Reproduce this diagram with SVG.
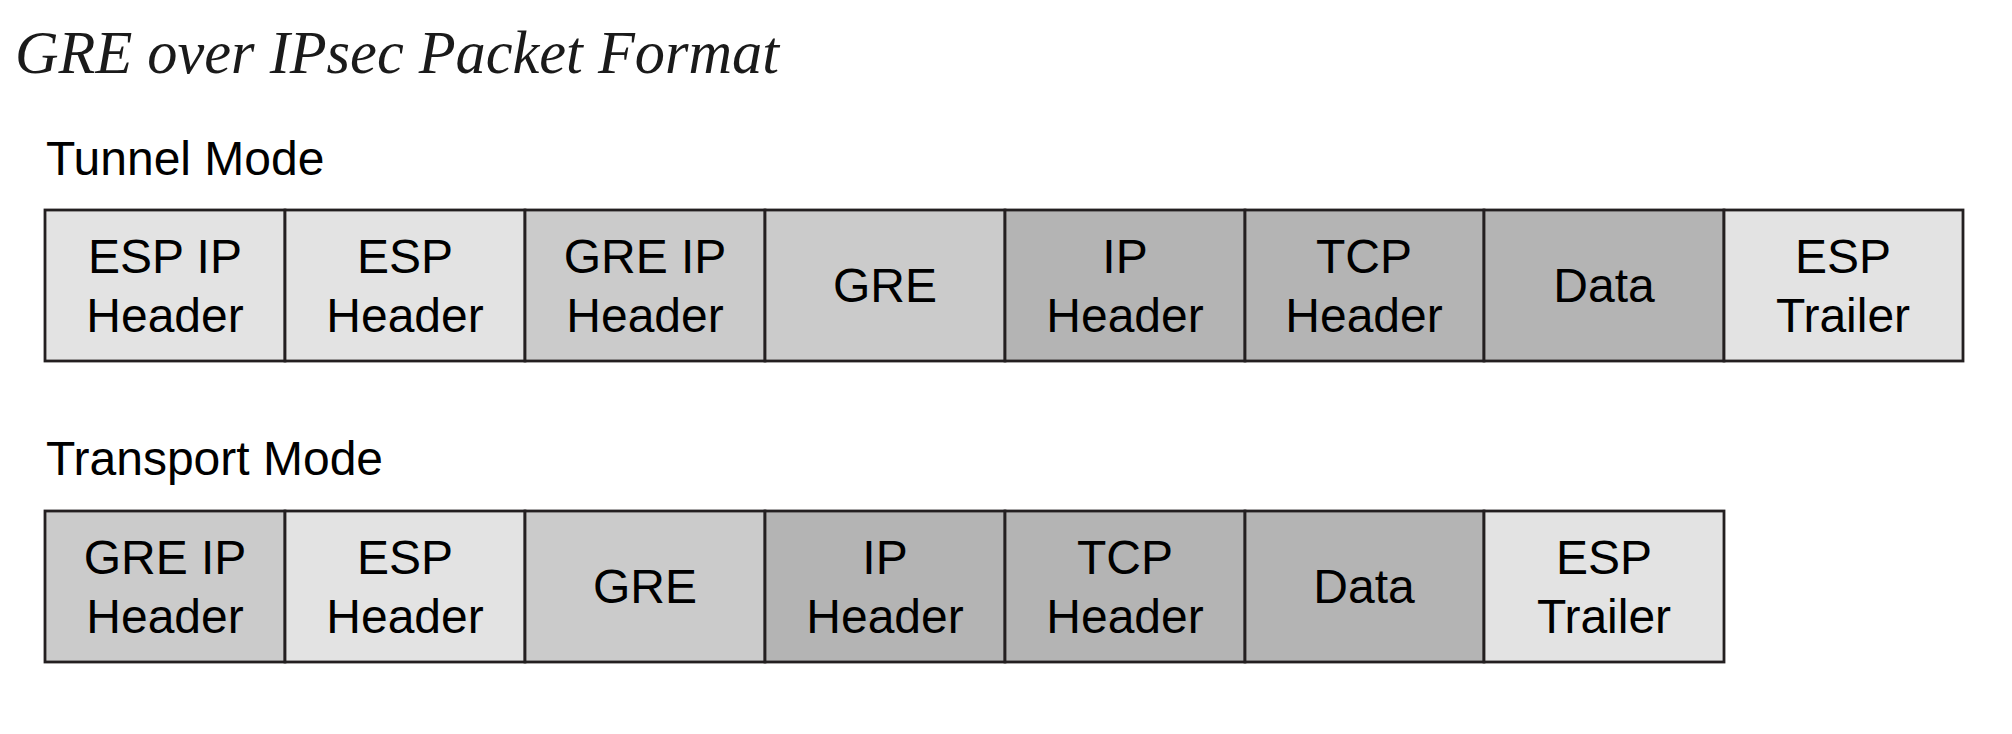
<svg xmlns="http://www.w3.org/2000/svg" width="2012" height="734" viewBox="0 0 2012 734">
  <style>
    .title { font-family: "Liberation Serif", "Times New Roman", serif; font-style: italic; font-size: 62px; fill: #1a1a1a; }
    .mode { font-family: "Liberation Sans", Arial, sans-serif; font-size: 48px; fill: #000; }
    .lbl { font-family: "Liberation Sans", Arial, sans-serif; font-size: 48px; fill: #000; text-anchor: middle; }
    .cell { stroke: #231f20; stroke-width: 2.8; }
    .light { fill: #e3e3e3; }
    .mid { fill: #cbcbcb; }
    .dark { fill: #b4b4b4; }
  </style>
  <rect width="2012" height="734" fill="#ffffff"/>

  <text class="title" x="15" y="73" textLength="764" lengthAdjust="spacingAndGlyphs">GRE over IPsec Packet Format</text>

  <!-- Tunnel mode packet -->
  <text class="mode" x="46" y="175">Tunnel Mode</text>
  <g id="tunnel">
    <g id="t-esp-ip-header">
      <rect class="cell light" x="45" y="210" width="240" height="151"/>
      <text class="lbl" x="165" y="273">ESP IP</text>
      <text class="lbl" x="165" y="332">Header</text>
    </g>
    <g id="t-esp-header">
      <rect class="cell light" x="285" y="210" width="240" height="151"/>
      <text class="lbl" x="405" y="273">ESP</text>
      <text class="lbl" x="405" y="332">Header</text>
    </g>
    <g id="t-gre-ip-header">
      <rect class="cell mid" x="525" y="210" width="240" height="151"/>
      <text class="lbl" x="645" y="273">GRE IP</text>
      <text class="lbl" x="645" y="332">Header</text>
    </g>
    <g id="t-gre">
      <rect class="cell mid" x="765" y="210" width="240" height="151"/>
      <text class="lbl" x="885" y="302">GRE</text>
    </g>
    <g id="t-ip-header">
      <rect class="cell dark" x="1005" y="210" width="240" height="151"/>
      <text class="lbl" x="1125" y="273">IP</text>
      <text class="lbl" x="1125" y="332">Header</text>
    </g>
    <g id="t-tcp-header">
      <rect class="cell dark" x="1245" y="210" width="239" height="151"/>
      <text class="lbl" x="1364" y="273">TCP</text>
      <text class="lbl" x="1364" y="332">Header</text>
    </g>
    <g id="t-data">
      <rect class="cell dark" x="1484" y="210" width="240" height="151"/>
      <text class="lbl" x="1604" y="302">Data</text>
    </g>
    <g id="t-esp-trailer">
      <rect class="cell light" x="1724" y="210" width="239" height="151"/>
      <text class="lbl" x="1843" y="273">ESP</text>
      <text class="lbl" x="1843" y="332">Trailer</text>
    </g>
  </g>

  <!-- Transport mode packet -->
  <text class="mode" x="46" y="475">Transport Mode</text>
  <g id="transport">
    <g id="p-gre-ip-header">
      <rect class="cell mid" x="45" y="511" width="240" height="151"/>
      <text class="lbl" x="165" y="574">GRE IP</text>
      <text class="lbl" x="165" y="633">Header</text>
    </g>
    <g id="p-esp-header">
      <rect class="cell light" x="285" y="511" width="240" height="151"/>
      <text class="lbl" x="405" y="574">ESP</text>
      <text class="lbl" x="405" y="633">Header</text>
    </g>
    <g id="p-gre">
      <rect class="cell mid" x="525" y="511" width="240" height="151"/>
      <text class="lbl" x="645" y="603">GRE</text>
    </g>
    <g id="p-ip-header">
      <rect class="cell dark" x="765" y="511" width="240" height="151"/>
      <text class="lbl" x="885" y="574">IP</text>
      <text class="lbl" x="885" y="633">Header</text>
    </g>
    <g id="p-tcp-header">
      <rect class="cell dark" x="1005" y="511" width="240" height="151"/>
      <text class="lbl" x="1125" y="574">TCP</text>
      <text class="lbl" x="1125" y="633">Header</text>
    </g>
    <g id="p-data">
      <rect class="cell dark" x="1245" y="511" width="239" height="151"/>
      <text class="lbl" x="1364" y="603">Data</text>
    </g>
    <g id="p-esp-trailer">
      <rect class="cell light" x="1484" y="511" width="240" height="151"/>
      <text class="lbl" x="1604" y="574">ESP</text>
      <text class="lbl" x="1604" y="633">Trailer</text>
    </g>
  </g>

  <!-- no connectors in this figure -->
  <g id="connectors"/>
</svg>
